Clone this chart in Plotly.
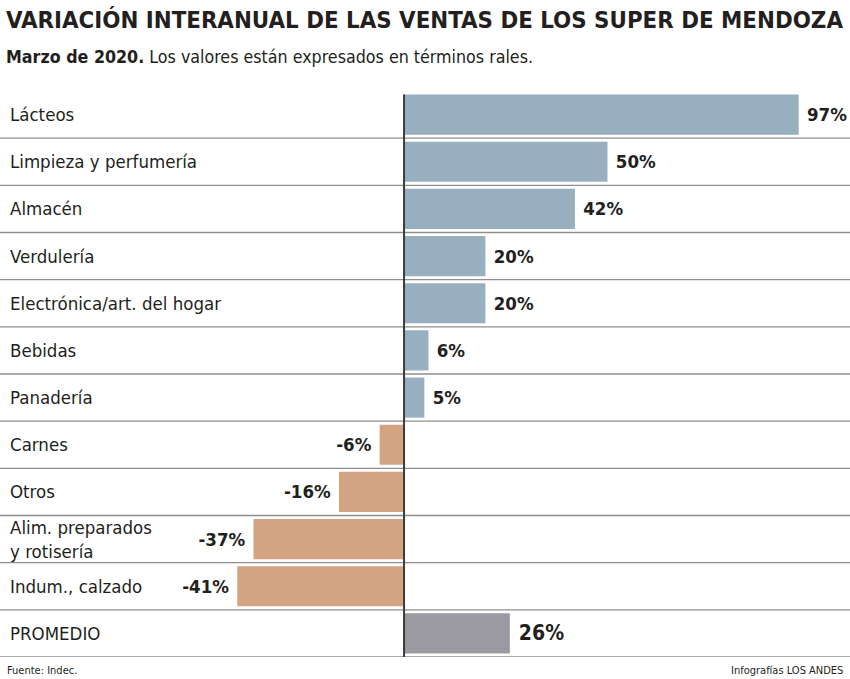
import plotly.graph_objects as go

categories = ["Lácteos", "Limpieza y perfumería", "Almacén", "Verdulería",
              "Electrónica/art. del hogar", "Bebidas", "Panadería", "Carnes",
              "Otros", "Alim. preparados<br>y rotisería", "Indum., calzado", "PROMEDIO"]
values = [97, 50, 42, 20, 20, 6, 5, -6, -16, -37, -41, 26]
value_labels = ["97%", "50%", "42%", "20%", "20%", "6%", "5%", "-6%", "-16%", "-37%", "-41%", "26%"]

title = "VARIACIÓN INTERANUAL DE LAS VENTAS DE LOS SUPER DE MENDOZA"
subtitle_bold = "Marzo de 2020."
subtitle_rest = " Los valores están expresados en términos rales."
source = "Fuente: Indec."
credit = "Infografías LOS ANDES"

BLUE = "#98AFC0"
TAN = "#D2A482"
GRAY = "#9B9AA1"
TXT = "#231F20"
FONT = "DejaVu Sans Condensed, Liberation Sans Narrow, Roboto, sans-serif"

W, H = 850, 679
T, B = 91, 22
PH = H - T - B

colors = []
for i, v in enumerate(values):
    if categories[i] == "PROMEDIO":
        colors.append(GRAY)
    elif v >= 0:
        colors.append(BLUE)
    else:
        colors.append(TAN)

tsizes = [21 if c == "PROMEDIO" else 18.5 for c in categories]

# pad label text away from the bar end
texts = []
for v, t in zip(values, value_labels):
    if v >= 0:
        texts.append("&nbsp;<b>%s</b>" % t)
    else:
        texts.append("<b>%s</b>&nbsp;" % t)

ypos = list(range(len(categories)))

fig = go.Figure(go.Bar(
    x=values, y=ypos, orientation="h",
    marker=dict(color=colors, line=dict(width=0)),
    width=0.85,
    text=texts,
    textposition="outside",
    textfont=dict(family=FONT, size=tsizes, color=TXT),
    cliponaxis=False,
    hoverinfo="skip",
))

def py2paper(py):
    return (H - B - py) / PH

shapes = []
for i in range(len(categories)):
    shapes.append(dict(type="line", xref="paper", yref="y", x0=0, x1=1,
                       y0=i + 0.5, y1=i + 0.5,
                       line=dict(color="#8E8E8E", width=1.3)))
# zero line
shapes.append(dict(type="line", xref="x", yref="y", x0=0, x1=0,
                   y0=-0.5 + 0.075, y1=len(categories) - 0.5,
                   line=dict(color="#3C3C3C", width=2), layer="above"))

annotations = []
for i, c in enumerate(categories):
    annotations.append(dict(x=0, xref="paper", y=i, yref="y", text=c,
                            xanchor="left", yanchor="middle", xshift=8, showarrow=False,
                            align="left",
                            font=dict(family=FONT, size=18.5, color=TXT)))

annotations.append(dict(x=0, xref="paper", y=py2paper(20), yref="paper",
                        text="<b>" + title + "</b>", xanchor="left", yanchor="middle",
                        xshift=4, showarrow=False,
                        font=dict(family=FONT, size=23.8, color=TXT)))
annotations.append(dict(x=0, xref="paper", y=py2paper(57), yref="paper",
                        text="<b>" + subtitle_bold + "</b>" + subtitle_rest,
                        xanchor="left", yanchor="middle", xshift=4, showarrow=False,
                        font=dict(family=FONT, size=17.7, color=TXT)))
annotations.append(dict(x=0, xref="paper", y=py2paper(670), yref="paper",
                        text=source, xanchor="left", yanchor="middle", xshift=5,
                        showarrow=False, font=dict(family=FONT, size=11, color=TXT)))
annotations.append(dict(x=1, xref="paper", y=py2paper(670), yref="paper",
                        text=credit, xanchor="right", yanchor="middle", xshift=-5,
                        showarrow=False, font=dict(family=FONT, size=11, color=TXT)))

fig.update_layout(
    width=W, height=H,
    margin=dict(l=0, r=0, t=T, b=B),
    paper_bgcolor="white", plot_bgcolor="white",
    showlegend=False,
    xaxis=dict(range=[-99.3, 109.6], showgrid=False, zeroline=False,
               showticklabels=False, fixedrange=True),
    yaxis=dict(range=[len(categories) - 0.5, -0.5], showgrid=False, zeroline=False,
               showticklabels=False, fixedrange=True),
    shapes=shapes,
    annotations=annotations,
)

fig.write_html("out.html", config={"displayModeBar": False},
               post_script="document.body.style.margin='0';document.body.style.overflow='hidden';")
